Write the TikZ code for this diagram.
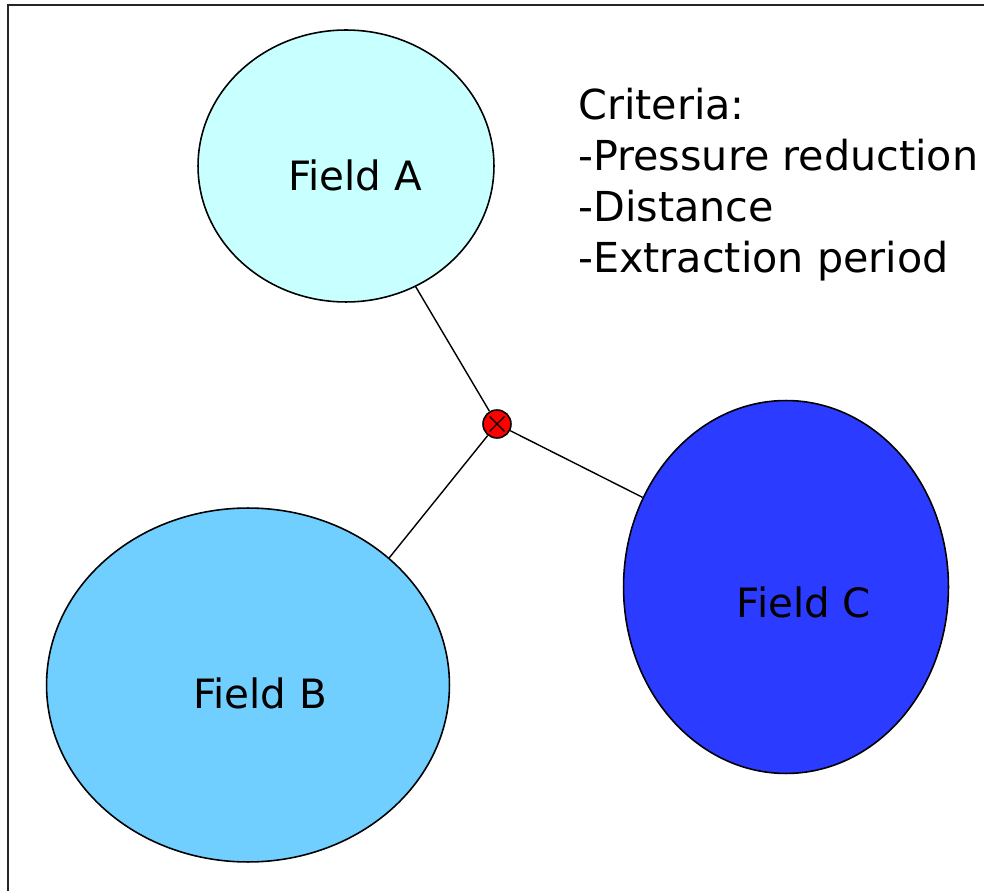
\documentclass[tikz,border=0pt]{standalone}
\usepackage{fontspec}
\setmainfont{DejaVu Sans}
\usetikzlibrary{shapes.geometric}
\definecolor{fieldA}{HTML}{C8FFFF}
\definecolor{fieldB}{HTML}{70CFFF}
\definecolor{fieldC}{HTML}{2B3BFF}
\begin{document}
\begin{tikzpicture}[x=0.02cm,y=-0.02cm,
  field/.style={draw,ellipse,line width=0.9pt,inner sep=0pt},
  fieldtext/.style={font=\fontsize{23}{28}\selectfont},
  well/.style={draw,circle,fill=red,line width=0.9pt,minimum size=0.56cm,inner sep=0pt,
    path picture={\draw[line width=0.8pt] ([shift={(-0.15cm,-0.15cm)}]path picture bounding box.center) -- ([shift={(0.15cm,0.15cm)}]path picture bounding box.center);
    \draw[line width=0.8pt] ([shift={(-0.15cm,0.15cm)}]path picture bounding box.center) -- ([shift={(0.15cm,-0.15cm)}]path picture bounding box.center);}}]
\useasboundingbox (0,0) rectangle (984,891);
\draw[line width=1.1pt,black!85] (8,891) -- (8,5) -- (984,5);
\node[field,fill=fieldA,minimum width=5.92cm,minimum height=5.44cm] (fa) at (346,166) {};
\node[field,fill=fieldB,minimum width=8.06cm,minimum height=7.08cm] (fb) at (248,685) {};
\node[field,fill=fieldC,minimum width=6.5cm,minimum height=7.46cm] (fc) at (786,587) {};
\node[well] (w) at (497,424) {};
\draw[line width=0.8pt] (w) -- (fa.-60);
\draw[line width=0.8pt] (w) -- (fb.42);
\draw[line width=0.8pt] (w) -- (fc.148);
\node[fieldtext] (la) at (355,175) {Field A};
\node[fieldtext] (lb) at (260,693) {Field B};
\node[fieldtext] (lc) at (804,602) {Field C};
\node[anchor=north west,inner sep=0pt,align=left,font=\fontsize{23.5}{29}\selectfont] (crit) at (578,88)
  {Criteria:\\-Pressure reduction\\-Distance\\-Extraction period};
\end{tikzpicture}
\end{document}
